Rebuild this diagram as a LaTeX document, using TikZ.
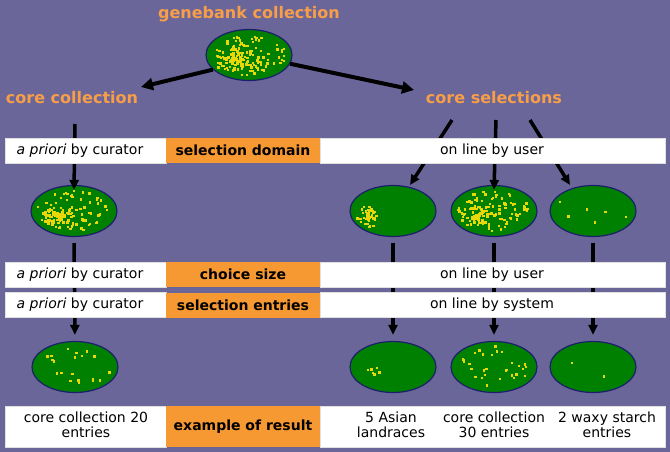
\documentclass[tikz,border=0pt]{standalone}
\usepackage{fontspec}
\setmainfont{DejaVu Sans}
\usetikzlibrary{arrows.meta,shapes.geometric}
\definecolor{bg}{RGB}{106,102,153}
\definecolor{ttl}{RGB}{248,158,72}
\definecolor{cellor}{RGB}{247,153,51}
\definecolor{leaf}{RGB}{0,128,0}
\definecolor{rim}{RGB}{30,30,110}
\definecolor{spotc}{RGB}{232,216,10}
\newcommand\uniformspots[4]{%
  \pgfmathsetseed{#4}%
  \foreach \k in {1,...,#3}{%
    \pgfmathsetmacro\rr{sqrt(rnd)*0.9}%
    \pgfmathsetmacro\aa{rnd*360}%
    \fill[spotc] ({#1+41*\rr*cos(\aa)-1.2},{#2+23*\rr*sin(\aa)-1.2}) rectangle ++(2.4,2.4);
  }}
\newcommand\clusterspots[6]{%
  \pgfmathsetseed{#4}%
  \foreach \k in {1,...,#3}{%
    \pgfmathsetmacro\rr{rnd}%
    \pgfmathsetmacro\aa{rnd*360}%
    \fill[spotc] ({#1+#5*\rr*cos(\aa)-1.2},{#2+#6*\rr*sin(\aa)-1.2}) rectangle ++(2.4,2.4);
  }}
\begin{document}
\begin{tikzpicture}[x=1pt,y=-1pt,
  ttltext/.style={text=ttl,font=\fontsize{16}{18}\selectfont\bfseries,inner sep=0},
  seed/.style={ellipse,draw=rim,line width=1.2pt,fill=leaf,minimum width=86pt,minimum height=51pt,inner sep=0},
  arr/.style={line width=4pt,-{Triangle[length=12pt,width=12pt]}},
  varr/.style={line width=3.5pt,-{Triangle[length=10pt,width=9pt]}},
  cellw/.style={fill=white,draw=black!12,line width=0.8pt,minimum height=25pt,inner sep=0},
  cello/.style={fill=cellor,minimum height=25pt,inner sep=0,font=\fontsize{14}{15}\selectfont\bfseries},
  lab/.style={inner sep=0,font=\fontsize{14}{15}\selectfont,align=center}]
\fill[bg] (0,0) rectangle (670,452);
\useasboundingbox (0,0) rectangle (670,452);
% titles
\node[ttltext] (gt) at (249,14) {genebank collection};
\node[ttltext] (cc) at (72,98) {core collection};
\node[ttltext] (cs) at (494,98) {core selections};
% seed ellipses
\node[seed] (G) at (249,55) {};
\node[seed] (L2) at (74,211) {};
\node[seed] (A2) at (393,211) {};
\node[seed] (B2) at (494,211) {};
\node[seed] (C2) at (593,211) {};
\node[seed] (L3) at (75,367) {};
\node[seed] (A3) at (393,367) {};
\node[seed] (B3) at (494,367) {};
\node[seed] (C3) at (593,367) {};
% spots
\uniformspots{249}{55}{100}{11}
\clusterspots{232}{61}{60}{12}{17}{12}
\uniformspots{74}{211}{80}{21}
\clusterspots{58}{216}{55}{22}{17}{12}
\clusterspots{369}{216}{45}{31}{13}{11}
\uniformspots{494}{211}{80}{41}
\clusterspots{478}{216}{55}{42}{17}{12}
\uniformspots{593}{211}{6}{51}
\uniformspots{75}{367}{20}{61}
\clusterspots{372}{370}{6}{71}{10}{10}
\uniformspots{494}{367}{30}{81}
\uniformspots{593}{367}{2}{91}
% connectors
\coordinate (ccend) at (141,87);
\coordinate (csend) at (414,90);
\coordinate (ccv) at (75,124);
\coordinate (s1) at (452,120);
\coordinate (s2) at (496,120);
\coordinate (s3) at (530,120);
\draw[arr] (G.202) -- (ccend);
\draw[arr] (G.-12) -- (csend);
\draw[varr] (ccv) -- ([yshift=-5pt]L2.north);
\draw[varr] (s1) -- (410,185);
\draw[varr] (s2) -- ([yshift=-5pt]B2.north);
\draw[varr] (s3) -- (570,185);
\draw[varr,shorten <=6pt,shorten >=6pt] (L2.south) -- (L3.north);
\draw[varr,shorten <=6pt,shorten >=6pt] (A2.south) -- (A3.north);
\draw[varr,shorten <=6pt,shorten >=6pt] (B2.south) -- (B3.north);
\draw[varr,shorten <=6pt,shorten >=6pt] (C2.south) -- (C3.north);
% bars
\node[cellw,minimum width=161pt] (d1) at (85.5,150.5) {};
\node[cello,minimum width=154pt] (d2) at (243,150.5) {selection domain};
\node[cellw,minimum width=345pt] (d3) at (492.5,150.5) {};
\node[cellw,minimum width=161pt] (c1) at (85.5,274.5) {};
\node[cello,minimum width=154pt] (c2) at (243,274.5) {choice size};
\node[cellw,minimum width=345pt] (c3) at (492.5,274.5) {};
\node[cellw,minimum width=161pt] (e1) at (85.5,305) {};
\node[cello,minimum width=154pt] (e2) at (243,305) {selection entries};
\node[cellw,minimum width=345pt] (e3) at (492.5,305) {};
\node[cellw,minimum width=161pt,minimum height=41pt] (r1) at (85.5,426.5) {};
\node[cello,minimum width=154pt,minimum height=41pt] (r2) at (243,426.5) {example of result};
\node[cellw,minimum width=345pt,minimum height=41pt] (r3) at (492.5,426.5) {};
\node[lab] (d1t) at (80,150.5) {\textit{a priori} by curator};
\node[lab] (d3t) at (492,150.5) {on line by user};
\node[lab] (c1t) at (80,274.5) {\textit{a priori} by curator};
\node[lab] (c3t) at (492,274.5) {on line by user};
\node[lab] (e1t) at (80,305) {\textit{a priori} by curator};
\node[lab] (e3t) at (492,305) {on line by system};
\node[lab] (t1) at (86,425) {core collection 20\\entries};
\node[lab] (t2) at (391,425) {5 Asian\\landraces};
\node[lab] (t3) at (494,425) {core collection\\30 entries};
\node[lab] (t4) at (607,425) {2 waxy starch\\entries};
\end{tikzpicture}
\end{document}
